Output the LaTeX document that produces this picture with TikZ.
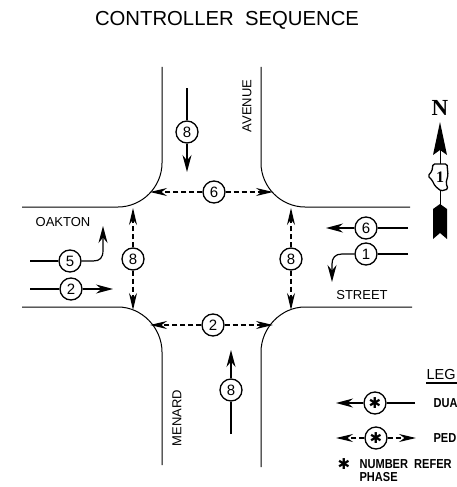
\documentclass[tikz,border=0pt]{standalone}
\usepackage{fontspec}
\setmainfont{Liberation Sans}
\newfontfamily\symfont{DejaVu Sans}
\newfontfamily\serffont{Liberation Serif}
\newfontfamily\legfont[FakeStretch=0.85]{Liberation Sans Bold}
\usetikzlibrary{arrows.meta, positioning, calc}
\tikzset{
  every picture/.style={line width=1.2pt},
  curb/.style={draw=black, line width=1pt},
  phase/.style={draw=black, circle, fill=white, line width=1.3pt, minimum size=22pt, inner sep=0pt, font=\fontsize{15}{15}\selectfont},
  move/.style={-{Stealth[length=17pt, width=9pt]}, line width=1.2pt},
  ped/.style={-{Stealth[length=17pt, width=8pt]}, line width=1.3pt, dash pattern=on 5pt off 3pt},
  street/.style={font=\fontsize{13}{13}\selectfont, inner sep=0pt},
  legendtext/.style={font=\fontsize{13}{13}\selectfont\legfont, inner sep=0pt, anchor=west},
  starphase/.style={phase, font=\fontsize{15}{15}\selectfont\symfont},
}

\begin{document}
\begin{tikzpicture}[x=1pt, y=-1pt]
  \useasboundingbox (0,0) rectangle (457,487);
  \node[font=\fontsize{20.3}{20}\selectfont, inner sep=0pt] (title) at (227,20) {CONTROLLER\ \ SEQUENCE};
  % street corners
  \draw[curb] (22,207) -- (118,207) .. controls (142,207) and (162,187) .. (162,163) -- (162,67);
  \draw[curb] (261,67) -- (261,163) .. controls (261,187) and (281,207) .. (305,207) -- (410,207);
  \draw[curb] (22,307) -- (118,307) .. controls (142,307) and (162,328) .. (162,352) -- (162,465);
  \draw[curb] (261,467) -- (261,352) .. controls (261,328) and (281,307) .. (305,307) -- (412,307);
  % street names
  \node[street, rotate=90] (avenue) at (247,106) {AVENUE};
  \node[street] (oakton) at (63,222) {OAKTON};
  \node[street] (streetname) at (362,295) {STREET};
  \node[street, rotate=90] (menard) at (177,418) {MENARD};
  % pedestrian phases
  \node[phase] (ped6) at (214,192) {6};
  \coordinate (ped6w) at (150,192); \coordinate (ped6e) at (273,192);
  \draw[ped] (ped6) -- (ped6w); \draw[ped] (ped6) -- (ped6e);
  \node[phase] (ped2) at (213,325) {2};
  \coordinate (ped2w) at (150,325); \coordinate (ped2e) at (273,325);
  \draw[ped] (ped2) -- (ped2w); \draw[ped] (ped2) -- (ped2e);
  \node[phase] (ped8w) at (133,259) {8};
  \coordinate (ped8wn) at (133,208); \coordinate (ped8ws) at (133,310);
  \draw[ped] (ped8w) -- (ped8wn); \draw[ped] (ped8w) -- (ped8ws);
  \node[phase] (ped8e) at (291,259) {8};
  \coordinate (ped8en) at (291,208); \coordinate (ped8es) at (291,310);
  \draw[ped] (ped8e) -- (ped8en); \draw[ped] (ped8e) -- (ped8es);
  % vehicle phases
  \node[phase] (veh8s) at (187,132) {8};
  \coordinate (veh8stail) at (187,88); \coordinate (veh8shead) at (187,172);
  \draw (veh8stail) -- (veh8s); \draw[move] (veh8s) -- (veh8shead);
  \node[phase] (veh8n) at (231,390) {8};
  \coordinate (veh8ntail) at (231,434); \coordinate (veh8nhead) at (231,350);
  \draw (veh8ntail) -- (veh8n); \draw[move] (veh8n) -- (veh8nhead);
  \node[phase] (veh6) at (366,228) {6};
  \coordinate (veh6tail) at (408,228); \coordinate (veh6head) at (326,228);
  \draw (veh6tail) -- (veh6); \draw[move] (veh6) -- (veh6head);
  \node[phase] (veh1) at (366,254) {1};
  \coordinate (veh1tail) at (408,254); \coordinate (veh1head) at (332,282);
  \draw (veh1tail) -- (veh1);
  \draw[move] (veh1) -- (342,254) .. controls (335,254) and (332,258) .. (332,264) -- (veh1head);
  \node[phase] (veh5) at (70,261) {5};
  \coordinate (veh5tail) at (30,261); \coordinate (veh5head) at (103,226);
  \draw (veh5tail) -- (veh5);
  \draw[move] (veh5) -- (93,261) .. controls (100,261) and (103,258) .. (103,250) -- (veh5head);
  \node[phase] (veh2) at (71,289) {2};
  \coordinate (veh2tail) at (30,289); \coordinate (veh2head) at (113,289);
  \draw (veh2tail) -- (veh2); \draw[move] (veh2) -- (veh2head);
  % north arrow
  \node[inner sep=0pt, font=\fontsize{23}{23}\selectfont\serffont\bfseries] (north) at (440,108) {N};
  \fill (440,122) -- (447,155) -- (440,150) -- (433,155) -- cycle;
  \draw[line width=1pt] (440,150) -- (440,164);
  \draw[line width=1.3pt, rounded corners=1.5pt] (433,164) -- (447,164) -- (448,175) -- (446,183) -- (448,189) -- (441,191) -- (435,186) -- (432,180) -- (428,176) -- (432,171) -- cycle;
  \node[inner sep=0pt, font=\fontsize{16}{16}\selectfont\serffont\bfseries] (shieldnum) at (440,177) {1};
  \draw[line width=1pt] (440,191) -- (440,206);
  \fill (433,209) -- (440,204) -- (447,209) -- (447,239) -- (440,233) -- (433,239) -- cycle;
  % legend
  \node[font=\fontsize{14.5}{15}\selectfont, inner sep=0pt, anchor=west] (legendtitle) at (426,375) {LEG};
  \draw[line width=1.2pt] (426,383) -- (457,383);
  \node[starphase] (leg1) at (375,403) {✱};
  \coordinate (leg1tail) at (415,403); \coordinate (leg1head) at (336,403);
  \draw (leg1tail) -- (leg1); \draw[move] (leg1) -- (leg1head);
  \node[legendtext] (dualtext) at (433,403) {DUA};
  \node[starphase] (leg2) at (376,438) {✱};
  \coordinate (leg2w) at (336,438); \coordinate (leg2e) at (416,438);
  \draw[ped] (leg2) -- (leg2w); \draw[ped] (leg2) -- (leg2e);
  \node[legendtext] (pedtext) at (433,438) {PED};
  \node[inner sep=0pt, font=\fontsize{15}{15}\selectfont\symfont] (legstar) at (344,464) {✱};
  \node[legendtext] (numbertext) at (359,464) {NUMBER\ \ REFER};
  \node[legendtext] (phasetext) at (359,477) {PHASE};
\end{tikzpicture}
\end{document}
